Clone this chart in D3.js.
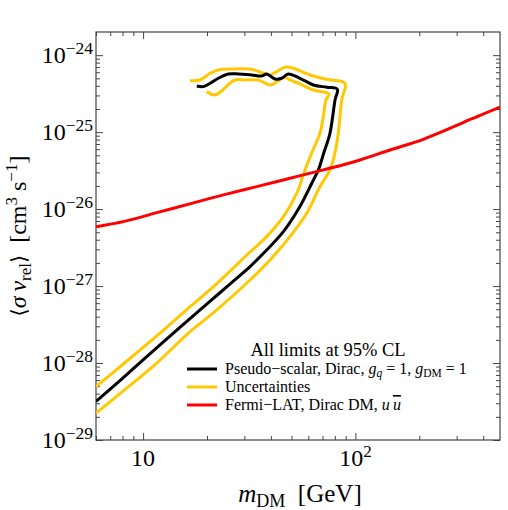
<!DOCTYPE html>
<html>
<head>
<meta charset="utf-8">
<script src="https://cdn.jsdelivr.net/npm/d3@7"></script>
<style>
  body { margin: 0; background: #fff; }
  svg { display: block; font-family: "Liberation Serif", "Times New Roman", serif; }
</style>
</head>
<body>
<svg id="chart" width="508" height="510"></svg>
<script>
// Pseudo-scalar limit, m_DM in GeV and <sigma v> in cm^3/s
var limitMass = [6.0, 8.0, 10.0, 15.0, 20.0, 25.0, 31.9, 38.2, 45.8, 54.8, 62.3, 66.9, 71.2, 75.9, 80.2, 82.2,
  73.3, 63.4, 54.8, 48.3, 45.0, 41.8, 38.2, 36.2, 32.5, 28.1, 25.2, 22.6, 20.7, 19.2, 17.9]
var limitSigma = [3.17e-29, 6.31e-29, 1.10e-28, 2.94e-28, 5.85e-28, 1.0e-27, 1.79e-27, 2.94e-27, 5.09e-27, 1.08e-26,
  2.17e-26, 3.22e-26, 5.52e-26, 9.66e-26, 2.62e-25, 3.61e-25, 3.83e-25, 4.10e-25, 5.01e-25, 5.70e-25, 5.01e-25,
  4.91e-25, 5.70e-25, 5.37e-25, 5.53e-25, 5.70e-25, 5.70e-25, 5.01e-25, 4.31e-25, 3.90e-25, 3.98e-25]

// Uncertainty band, inner edge
var upperMass = [6.0, 8.07, 11.6, 16.6, 21.4, 31.9, 38.2, 45.8, 52.9, 57.9, 63.1, 68.1, 70.8, 72.7, 75.1,
  63.4, 54.8, 49.2, 46.1, 43.2, 40.0, 37.5, 34.8, 30.2, 27.1, 25.1, 23.3, 21.7, 19.9]
var upperSigma = [4.93e-29, 9.72e-29, 2.25e-28, 5.36e-28, 9.73e-28, 2.77e-27, 4.39e-27, 7.97e-27, 1.60e-26, 3.22e-26,
  5.86e-26, 9.66e-26, 1.67e-25, 2.62e-25, 3.13e-25, 3.53e-25, 4.23e-25, 4.76e-25, 5.21e-25, 4.62e-25, 4.10e-25,
  4.35e-25, 4.76e-25, 4.76e-25, 4.76e-25, 4.10e-25, 3.38e-25, 3.04e-25, 3.36e-25]

// Uncertainty band, outer edge
var lowerMass = [6.0, 8.07, 11.6, 16.6, 21.4, 31.9, 39.6, 49.2, 59.0, 68.1, 75.9, 79.7, 83.1, 86.2, 89.4,
  73.3, 61.1, 51.0, 46.6, 41.8, 39.6, 36.8, 32.5, 27.1, 22.6, 20.7, 18.5, 16.6]
var lowerSigma = [2.23e-29, 4.34e-29, 1.0e-28, 2.54e-28, 4.48e-28, 1.20e-27, 2.18e-27, 4.39e-27, 8.83e-27, 1.96e-26,
  3.22e-26, 5.05e-26, 9.66e-26, 2.62e-25, 4.31e-25, 4.86e-25, 5.53e-25, 6.76e-25, 6.97e-25, 5.93e-25, 5.53e-25,
  5.82e-25, 6.56e-25, 6.62e-25, 6.43e-25, 5.82e-25, 4.76e-25, 4.66e-25]

// Fermi-LAT limit, Dirac DM, u ubar
var fermiMass = [6, 8.07, 11.6, 16.6, 23.9, 34.3, 49.2, 70.6, 101.4, 145.6, 208.9, 300, 347, 480]
var fermiSigma = [5.91e-27, 6.87e-27, 8.99e-27, 1.17e-26, 1.53e-26, 1.96e-26, 2.52e-26, 3.23e-26, 4.22e-26,
  5.86e-26, 8.07e-26, 1.22e-25, 1.46e-25, 2.12e-25]

// Tick labels: base 10 with exponent
var massTicks = [10, 100]
var massTickExp = ['', '2']
var sigmaTicks = [1e-29, 1e-28, 1e-27, 1e-26, 1e-25, 1e-24]
var sigmaTickExp = ['\u221229', '\u221228', '\u221227', '\u221226', '\u221225', '\u221224']

var legendLabels = ['Pseudo\u2212scalar', 'Uncertainties', 'Fermi\u2212LAT']
var lineColors = { limit: '#000', band: '#ffc800', fermi: '#ff0000' }
var frameColor = '#444'

var svg = d3.select('#chart')
  , plotLeft = 96, plotRight = 500, plotTop = 32, plotBottom = 440

var x = d3.scaleLog().domain([6, 480]).range([plotLeft, plotRight])
var y = d3.scaleLog().domain([1e-29, 2e-24]).range([plotBottom, plotTop])

var isMajor = function(v) {
  var l = Math.log10(v)
  return Math.abs(l - Math.round(l)) < 1e-6
}

svg.append('clipPath').attr('id', 'plot-clip')
  .append('rect').attr('x', plotLeft).attr('y', plotTop)
  .attr('width', plotRight - plotLeft).attr('height', plotBottom - plotTop)

// Frame ticks point inward on all four sides
var addAxis = function(axis, transform, attr, sign) {
  var g = svg.append('g').attr('transform', transform)
    .call(axis.tickSizeInner(-7).tickSizeOuter(0).tickFormat(''))
  g.select('.domain').remove()
  g.selectAll('.tick line')
    .attr('stroke', frameColor)
    .attr(attr, function(d) { return sign * (isMajor(d) ? 7 : 4) })
}
addAxis(d3.axisBottom(x).tickValues(x.ticks()), 'translate(0,' + plotBottom + ')', 'y2', -1)
addAxis(d3.axisTop(x).tickValues(x.ticks()), 'translate(0,' + plotTop + ')', 'y2', 1)
addAxis(d3.axisLeft(y).tickValues(y.ticks()), 'translate(' + plotLeft + ',0)', 'x2', 1)
addAxis(d3.axisRight(y).tickValues(y.ticks()), 'translate(' + plotRight + ',0)', 'x2', -1)

svg.append('rect')
  .attr('x', plotLeft).attr('y', plotTop)
  .attr('width', plotRight - plotLeft).attr('height', plotBottom - plotTop)
  .attr('fill', 'none').attr('stroke', frameColor).attr('stroke-width', 1.2)

// Tick labels
var xl = svg.append('g').selectAll('text').data(massTicks).enter().append('text')
  .attr('x', function(d) { return x(d) })
  .attr('y', plotBottom + 26)
  .attr('text-anchor', 'middle')
  .attr('font-size', 24)
xl.append('tspan').text('10')
xl.append('tspan').attr('font-size', 17).attr('dy', -9)
  .text(function(d, i) { return massTickExp[i] })

var yl = svg.append('g').selectAll('text').data(sigmaTicks).enter().append('text')
  .attr('x', plotLeft - 3)
  .attr('y', function(d) { return y(d) + 8 })
  .attr('text-anchor', 'end')
  .attr('font-size', 24)
yl.append('tspan').text('10')
yl.append('tspan').attr('font-size', 17.5).attr('dy', -9)
  .text(function(d, i) { return sigmaTickExp[i] })

// Axis titles
var xt = svg.append('text')
  .attr('x', 300).attr('y', 502)
  .attr('text-anchor', 'middle').attr('font-size', 25)
xt.append('tspan').attr('font-style', 'italic').text('m')
xt.append('tspan').attr('font-size', 18).attr('dy', 5).text('DM')
xt.append('tspan').attr('dy', -5).text('\u00a0\u00a0[GeV]')

var yt = svg.append('text')
  .attr('transform', 'translate(26,' + ((plotTop + plotBottom) / 2) + ') rotate(-90)')
  .attr('text-anchor', 'middle').attr('font-size', 24)
yt.append('tspan').attr('font-family', 'DejaVu Serif').attr('font-size', 21).text('\u27e8')
yt.append('tspan').attr('font-style', 'italic').text('\u03c3\u2009v')
yt.append('tspan').attr('font-size', 17).attr('dy', 5).text('rel')
yt.append('tspan').attr('dy', -5).attr('font-family', 'DejaVu Serif').attr('font-size', 21).text('\u27e9')
yt.append('tspan').text('\u00a0\u00a0[cm')
yt.append('tspan').attr('font-size', 17).attr('dy', -9).text('3')
yt.append('tspan').attr('dy', 9).text('\u00a0s')
yt.append('tspan').attr('font-size', 17).attr('dy', -9).text('\u22121')
yt.append('tspan').attr('dy', 9).text(']')

// Curves
var line = d3.line()
  .x(function(d) { return x(d[0]) })
  .y(function(d) { return y(d[1]) })
  .curve(d3.curveCatmullRom.alpha(0.5))

var plot = svg.append('g').attr('clip-path', 'url(#plot-clip)')
var drawCurve = function(mass, sigma, color) {
  plot.append('path')
    .datum(d3.zip(mass, sigma))
    .attr('d', line)
    .attr('fill', 'none')
    .attr('stroke', color)
    .attr('stroke-width', 3)
    .attr('stroke-linejoin', 'round')
}
drawCurve(upperMass, upperSigma, lineColors.band)
drawCurve(lowerMass, lowerSigma, lineColors.band)
drawCurve(limitMass, limitSigma, lineColors.limit)
drawCurve(fermiMass, fermiSigma, lineColors.fermi)

// Legend
var legend = svg.append('g')
legend.append('text')
  .attr('x', 328).attr('y', 356)
  .attr('text-anchor', 'middle').attr('font-size', 18.5)
  .text('All limits at 95% CL')

var entryY = [369, 387, 405]
var entryColors = [lineColors.limit, lineColors.band, lineColors.fermi]
legend.selectAll('line').data(entryY).enter().append('line')
  .attr('x1', 187).attr('x2', 217)
  .attr('y1', function(d) { return d }).attr('y2', function(d) { return d })
  .attr('stroke', function(d, i) { return entryColors[i] })
  .attr('stroke-width', 3)

var entries = legend.selectAll('text.entry').data(entryY).enter().append('text')
  .attr('class', 'entry')
  .attr('x', 225)
  .attr('y', function(d) { return d + 5 })
  .attr('font-size', 16)
  .text(function(d, i) { return legendLabels[i] })

var e0 = d3.select(entries.nodes()[0])
e0.append('tspan').text(', Dirac, ')
e0.append('tspan').attr('font-style', 'italic').text('g')
e0.append('tspan').attr('font-style', 'italic').attr('font-size', 11.5).attr('dy', 3).text('q')
e0.append('tspan').attr('dy', -3).text(' = 1, ')
e0.append('tspan').attr('font-style', 'italic').text('g')
e0.append('tspan').attr('font-size', 11.5).attr('dy', 3).text('DM')
e0.append('tspan').attr('dy', -3).text(' = 1')

var e2 = d3.select(entries.nodes()[2])
e2.append('tspan').text(', Dirac DM, ')
e2.append('tspan').attr('font-style', 'italic').text('u\u2009')
e2.append('tspan').attr('font-style', 'italic').style('text-decoration', 'overline').text('u')
</script>
</body>
</html>
